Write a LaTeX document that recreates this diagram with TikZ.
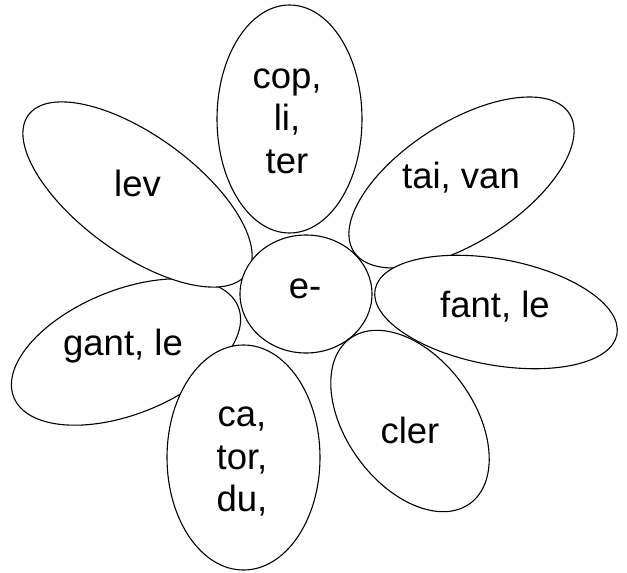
\documentclass[tikz,border=0pt]{standalone}
\usepackage{fontspec}
\setmainfont{Liberation Sans}
\usetikzlibrary{shapes.geometric}

\begin{document}
\begin{tikzpicture}[
  x=1pt, y=1pt,
  petal/.style={draw=black, line width=1.1pt, fill=white, ellipse, inner sep=0pt},
  word/.style={font=\fontsize{36.5}{42.4}\selectfont, align=center, inner sep=0pt}
]
\useasboundingbox (0,0) rectangle (627,-573);

\node[petal, minimum width=242, minimum height=124, rotate=22] (gant) at (126,-352) {};
\node[petal, minimum width=270, minimum height=118, rotate=-36] (lev) at (137.5,-194.5) {};
\node[petal, minimum width=145, minimum height=228] (cop) at (289.5,-119) {};
\node[petal, minimum width=256, minimum height=120, rotate=32.6] (tai) at (461.5,-182.5) {};
\node[petal, minimum width=246, minimum height=106, rotate=-10.5] (fant) at (496,-312) {};
\node[petal, minimum width=128, minimum height=204, rotate=36] (cler) at (410,-421) {};
\node[petal, minimum width=153, minimum height=225] (ca) at (243.5,-457.5) {};
\node[petal, minimum width=132, minimum height=118] (core) at (306,-294) {};

\node[word, anchor=base] (tgant) at (123,-355) {gant, le};
\node[word, anchor=base] (tlev) at (137.5,-196) {lev};
\node[word] (tcop) at (287,-121.2) {cop,\\li,\\ter};
\node[word, anchor=base] (ttai) at (461,-188.3) {tai, van};
\node[word, anchor=base] (tfant) at (495,-317.3) {fant, le};
\node[word, anchor=base] (tcler) at (410,-443) {cler};
\node[word] (tca) at (242,-461.7) {ca,\\tor,\\du,};
\node[word, anchor=base] (tcore) at (305,-298) {e-};

\end{tikzpicture}
\end{document}
